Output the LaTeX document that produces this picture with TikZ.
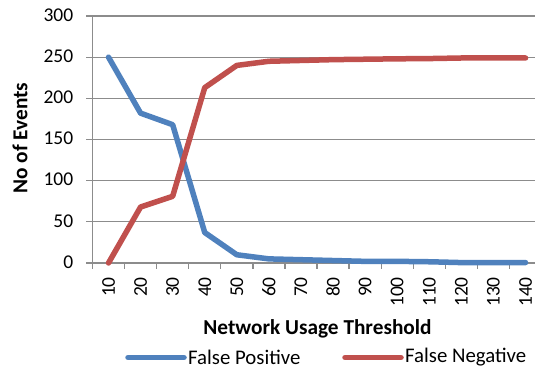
\documentclass[tikz,border=0pt]{standalone}
\usepackage{fontspec}
\setmainfont{Carlito}
\usepackage{xcolor}
\definecolor{fpblue}{HTML}{4F81BD}
\definecolor{fnred}{HTML}{C0504D}
\definecolor{gridgray}{HTML}{8C8C8C}

\begin{document}
\begin{tikzpicture}[
  x=1pt,y=1pt,
  grid/.style={draw=gridgray,line width=1.3pt},
  series/.style={line width=5.5pt,line cap=round,line join=round},
  ticklab/.style={font=\fontsize{19.5}{22}\selectfont,inner sep=0pt},
  axtitle/.style={font=\fontsize{21.3}{24}\selectfont\bfseries,inner sep=0pt},
  legtext/.style={font=\fontsize{20.8}{24}\selectfont,inner sep=0pt,anchor=west}
]
  \useasboundingbox (0,0) rectangle (535,369);

  % plot area: category i at x=i, events v at y=v
  \begin{scope}[x=32.08pt,y=0.8233pt,shift={(76.42pt,106pt)}]
    \foreach \v in {50,100,...,300}
      \draw[grid] (0.3,\v) -- (14.6,\v);
    \draw[grid] (0.3,0) -- (14.6,0);
    \draw[grid] (0.5,0) -- (0.5,300);
    \foreach \k in {0,...,14}
      \draw[grid] (\k+0.5,0) -- ++(0,-7.5);

    \foreach \v in {0,50,...,300}
      \node[ticklab,anchor=east] (y\v) at ([xshift=-19pt,yshift=1pt]0.5,\v) {\v};
    \foreach \i in {1,...,14}
      \node[ticklab,anchor=east,rotate=90] (x\i) at ([yshift=-14pt]\i,0) {\pgfmathparse{int(10*\i)}\pgfmathresult};

    \draw[series,fpblue] plot coordinates {(1,250) (2,182) (3,168) (4,37) (5,10)
      (6,5) (7,4) (8,3) (9,2) (10,2) (11,1.5) (12,0.5) (13,0.5) (14,0.5)};
    \draw[series,fnred] plot coordinates {(1,0) (2,68) (3,81) (4,213) (5,240)
      (6,245) (7,246) (8,247) (9,247.5) (10,248) (11,248.3) (12,249) (13,249) (14,249)};
  \end{scope}

  \node[axtitle,rotate=90] (ytitle) at (20,231) {No of Events};
  \node[axtitle] (xtitle) at (317.5,40) {Network Usage Threshold};

  % legend
  \node[legtext] (fp) at (188,11.5) {False Positive};
  \node[legtext] (fn) at (405,11.5) {False Negative};
  \coordinate (fpstart) at (128,11.5);
  \coordinate (fnstart) at (345,11.5);
  \draw[series,fpblue] (fpstart) -- ([xshift=-4pt]fp.west);
  \draw[series,fnred] (fnstart) -- ([xshift=-4pt]fn.west);
\end{tikzpicture}
\end{document}
